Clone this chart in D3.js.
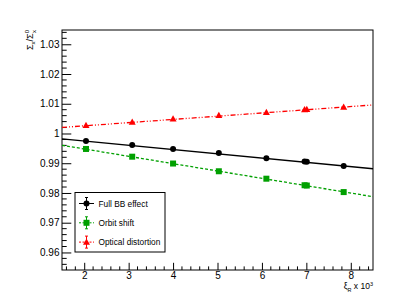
<html lang="en">
<head>
<meta charset="UTF-8"/>
<script src="https://d3js.org/d3.v7.min.js"></script>
<style>
body { margin: 0; background: #fff; font-family: 'Liberation Sans', Arial, sans-serif; }
svg { display: block; }
text { fill: #000; }
.legend text { font-size: 8.3px; }
</style>
</head>
<body>
<svg width="415" height="300"></svg>
<script>
// xi_R x 10^3 values of the points
const xVals = [2.04, 3.08, 4.0, 5.03, 6.1, 6.96, 7.01, 7.84];

const fullBB  = [0.9975, 0.9961, 0.9948, 0.9934, 0.9917, 0.9906, 0.9905, 0.9891];
const orbit   = [0.9948, 0.9922, 0.9899, 0.9873, 0.9848, 0.9826, 0.9825, 0.9803];
const optical = [1.0027, 1.0038, 1.0049, 1.0061, 1.0071, 1.0080, 1.0081, 1.0089];

// fitted lines, value at the ends of the x range
const fitX = [1.5, 8.5];
const fitBB = [0.99817, 0.98814];
const fitOrbit = [0.99604, 0.97875];
const fitOptical = [1.00203, 1.0096];

const xTicks = [2, 3, 4, 5, 6, 7, 8];
const yTicks = [0.96, 0.97, 0.98, 0.99, 1, 1.01, 1.02, 1.03];

const series = [
  { name: 'Full BB effect', vals: fullBB, fit: fitBB, color: '#000', dash: null, marker: 'circle' },
  { name: 'Orbit shift', vals: orbit, fit: fitOrbit, color: '#00a000', dash: '3,2', marker: 'square' },
  { name: 'Optical distortion', vals: optical, fit: fitOptical, color: '#ff0000', dash: '5,2,1,2,1,2', marker: 'triangle' }
];

const svg = d3.select('svg');
const margin = { left: 62, top: 30, right: 42, bottom: 30 };
const width = 415 - margin.left - margin.right;
const height = 300 - margin.top - margin.bottom;

const chart = svg.append('g').attr('transform', `translate(${margin.left},${margin.top})`);

const x = d3.scaleLinear().domain([1.5, 8.5]).range([0, width]);
const y = d3.scaleLinear().domain([0.9541, 1.0348]).range([height, 0]);

// minor ticks
const xMinor = d3.range(1.6, 8.5, 0.2).filter(v => Math.abs(v - Math.round(v)) > 0.01);
const yMinor = d3.range(0.956, 1.035, 0.002).filter(v => Math.abs(v * 100 - Math.round(v * 100)) > 0.01);

chart.append('g').selectAll('line').data(xMinor).join('line')
  .attr('x1', d => x(d)).attr('x2', d => x(d))
  .attr('y1', height).attr('y2', height - 3.6)
  .attr('stroke', '#000').attr('stroke-width', 1);
chart.append('g').selectAll('line').data(yMinor).join('line')
  .attr('y1', d => y(d)).attr('y2', d => y(d))
  .attr('x1', 0).attr('x2', 4.7)
  .attr('stroke', '#000').attr('stroke-width', 1);

const xAxis = chart.append('g').attr('transform', `translate(0,${height})`)
  .call(d3.axisBottom(x).tickValues(xTicks).tickSize(-7.2).tickPadding(2).tickFormat(d3.format('d')));
const yAxis = chart.append('g')
  .call(d3.axisLeft(y).tickValues(yTicks).tickSize(-9.3).tickPadding(2.5).tickFormat(d => d === 1 ? '1' : d3.format('.2f')(d)));
[xAxis, yAxis].forEach(a => {
  a.select('.domain').remove();
  a.selectAll('.tick line').attr('stroke', '#000');
  a.selectAll('.tick text').attr('fill', '#000').style('font-family', "'Liberation Sans', Arial, sans-serif").style('font-size', '10px');
});

// frame
chart.append('rect').attr('width', width).attr('height', height)
  .attr('fill', 'none').attr('stroke', '#000').attr('stroke-width', 1);

// fit lines
const line = d3.line().x(d => x(d[0])).y(d => y(d[1]));
series.forEach(s => {
  chart.append('path')
    .datum(fitX.map((v, i) => [v, s.fit[i]]))
    .attr('d', line)
    .attr('fill', 'none')
    .attr('stroke', s.color)
    .attr('stroke-width', 1.3)
    .attr('stroke-dasharray', s.dash);
});

function drawMarker(g, type, cx, cy, color) {
  if (type === 'circle') {
    g.append('circle').attr('cx', cx).attr('cy', cy).attr('r', 3).attr('fill', color);
  } else if (type === 'square') {
    g.append('rect').attr('x', cx - 3).attr('y', cy - 3).attr('width', 6).attr('height', 6).attr('fill', color);
  } else {
    g.append('path').attr('d', `M${cx},${cy - 3.6}L${cx + 3.5},${cy + 2.6}L${cx - 3.5},${cy + 2.6}Z`).attr('fill', color);
  }
}

const pts = chart.append('g');
series.forEach(s => {
  s.vals.forEach((v, i) => drawMarker(pts, s.marker, x(xVals[i]), y(v), s.color));
});

// legend
const legend = svg.append('g').attr('class', 'legend');
legend.append('rect').attr('x', 75).attr('y', 192.5).attr('width', 90).attr('height', 59.5)
  .attr('fill', '#fff').attr('stroke', '#000').attr('stroke-width', 1);
series.forEach((s, i) => {
  const ly = 203.5 + i * 19.3;
  const lx = 86.5;
  legend.append('line').attr('x1', 79).attr('x2', 94).attr('y1', ly).attr('y2', ly)
    .attr('stroke', s.color).attr('stroke-width', 1).attr('stroke-dasharray', s.dash ? '2,1.5' : null);
  legend.append('line').attr('x1', lx).attr('x2', lx).attr('y1', ly - 6).attr('y2', ly + 6)
    .attr('stroke', s.color).attr('stroke-width', 1);
  legend.append('line').attr('x1', lx - 1.5).attr('x2', lx + 1.5).attr('y1', ly - 6).attr('y2', ly - 6)
    .attr('stroke', s.color).attr('stroke-width', 1);
  legend.append('line').attr('x1', lx - 1.5).attr('x2', lx + 1.5).attr('y1', ly + 6).attr('y2', ly + 6)
    .attr('stroke', s.color).attr('stroke-width', 1);
  drawMarker(legend, s.marker, lx, ly, s.color);
  legend.append('text').attr('x', 98.5).attr('y', ly + 3).text(s.name);
});

// axis titles
const yt = svg.append('text')
  .attr('transform', 'translate(33,30) rotate(-90)')
  .attr('text-anchor', 'end')
  .style('font-size', '9px');
yt.append('tspan').text('Σ');
yt.append('tspan').attr('dy', 2).style('font-size', '6px').text('x');
yt.append('tspan').attr('dy', -2).text('/Σ');
yt.append('tspan').attr('dy', -4).style('font-size', '6px').text('0');
yt.append('tspan').attr('dx', -3).attr('dy', 7).style('font-size', '6px').text('x');

const xt = svg.append('text')
  .attr('x', 373).attr('y', 289)
  .attr('text-anchor', 'end')
  .style('font-size', '8.5px');
xt.append('tspan').text('ξ');
xt.append('tspan').attr('dy', 2.5).style('font-size', '5.5px').text('R');
xt.append('tspan').attr('dy', -2.5).text(' x 10');
xt.append('tspan').attr('dy', -3.5).style('font-size', '5.5px').text('3');
</script>
</body>
</html>
